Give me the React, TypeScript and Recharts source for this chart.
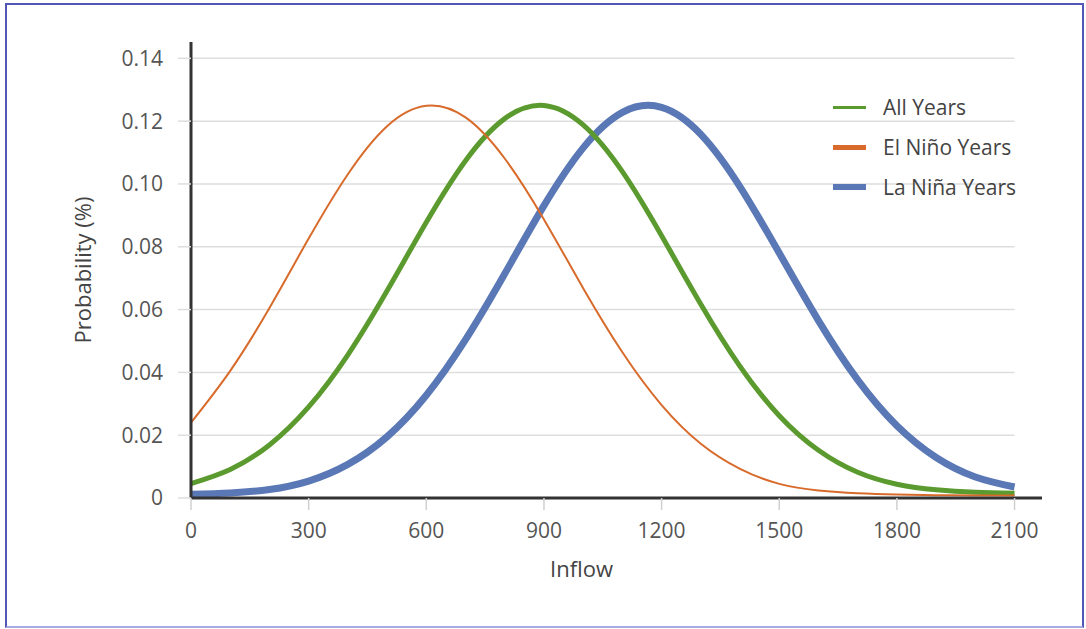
import { Line, LineChart, ReferenceLine, XAxis, YAxis } from "recharts";

const INFLOW = [0, 100, 200, 300, 400, 500, 600, 700, 800, 900, 1000, 1100, 1200, 1300, 1400, 1500, 1600, 1700, 1800, 1900, 2000, 2100];

const ALL_YEARS = [0.0046, 0.0091, 0.0169, 0.029, 0.0456, 0.066, 0.0878, 0.1074, 0.1208, 0.125, 0.1188, 0.1039, 0.0835, 0.0617, 0.0419, 0.0262, 0.0152, 0.0082, 0.0044, 0.0026, 0.0018, 0.0015];
const EL_NINO = [0.024, 0.0405, 0.0605, 0.0826, 0.1031, 0.1184, 0.1249, 0.1212, 0.1081, 0.0887, 0.0668, 0.0464, 0.0296, 0.0173, 0.0093, 0.0045, 0.0024, 0.0015, 0.0011, 0.0009, 0.0008, 0.0008];
const LA_NINA = [0.0012, 0.0016, 0.0027, 0.0054, 0.0107, 0.0195, 0.0327, 0.0504, 0.0714, 0.0931, 0.1115, 0.1228, 0.1244, 0.1158, 0.0991, 0.078, 0.0565, 0.0376, 0.023, 0.0129, 0.0067, 0.0035];

const X_TICKS = [0, 300, 600, 900, 1200, 1500, 1800, 2100];
const Y_TICKS = [0, 0.02, 0.04, 0.06, 0.08, 0.1, 0.12, 0.14];

const SERIES = [
  { key: "all", name: "All Years", color: "#5b9a2e", legendWidth: 3 },
  { key: "elNino", name: "El Niño Years", color: "#d86b2b", legendWidth: 5 },
  { key: "laNina", name: "La Niña Years", color: "#5a77b6", legendWidth: 6 },
];

const data = INFLOW.map((inflow, i) => ({
  inflow,
  all: ALL_YEARS[i],
  elNino: EL_NINO[i],
  laNina: LA_NINA[i],
}));

const FONT = "'Open Sans', sans-serif";
const tickStyle = { fontFamily: FONT, fontSize: 21, fill: "#555" };

export default function App() {
  return (
    <div style={{ position: "fixed", left: 0, top: 0, width: 1086, height: 629, background: "#fff" }}>
      <div
        style={{
          position: "absolute",
          left: 5,
          top: 3,
          width: 1079,
          height: 625,
          boxSizing: "border-box",
          border: "2px solid #5256b6",
          borderBottomColor: "#a9abe2",
        }}
      />
      <div style={{ position: "absolute", left: 0, top: 0 }}>
        <LineChart width={1086} height={629} data={data} margin={{ top: 42, right: 44, bottom: 0, left: 0 }}>
          {Y_TICKS.map((t) => (
            <ReferenceLine
              key={t}
              segment={[
                { x: 0, y: t },
                { x: 2100, y: t },
              ]}
              stroke="#dedede"
              strokeWidth={1.5}
            />
          ))}
          <XAxis
            dataKey="inflow"
            type="number"
            domain={[0, 2170]}
            ticks={X_TICKS}
            allowDataOverflow
            height={131}
            tickSize={12}
            tickMargin={13}
            tick={tickStyle}
            tickLine={{ stroke: "#d0d0d0", strokeWidth: 1.5 }}
            axisLine={{ stroke: "#333", strokeWidth: 3 }}
            label={{
              value: "Inflow",
              position: "insideBottom",
              offset: 52,
              dx: -35,
              style: { fontFamily: FONT, fontSize: 22, fill: "#444" },
            }}
          />
          <YAxis
            type="number"
            domain={[0, 0.1452]}
            ticks={Y_TICKS}
            allowDataOverflow
            width={191}
            tickSize={13}
            tickMargin={15}
            tick={tickStyle}
            tickFormatter={(v: number) => (v === 0 ? "0" : v.toFixed(2))}
            tickLine={{ stroke: "#dedede", strokeWidth: 1.5 }}
            axisLine={{ stroke: "#333", strokeWidth: 3 }}
            label={{
              value: "Probability (%)",
              angle: -90,
              position: "insideLeft",
              offset: 83,
              style: { fontFamily: FONT, fontSize: 22, fill: "#444", textAnchor: "middle" },
            }}
          />
          <Line
            dataKey="laNina"
            name="La Niña Years"
            type="natural"
            stroke="#5a77b6"
            strokeWidth={7}
            dot={false}
            isAnimationActive={false}
          />
          <Line
            dataKey="all"
            name="All Years"
            type="natural"
            stroke="#5b9a2e"
            strokeWidth={5}
            dot={false}
            isAnimationActive={false}
          />
          <Line
            dataKey="elNino"
            name="El Niño Years"
            type="natural"
            stroke="#d86b2b"
            strokeWidth={2}
            dot={false}
            isAnimationActive={false}
          />
        </LineChart>
      </div>
      <div style={{ position: "absolute", left: 833, top: 87, fontFamily: FONT, fontSize: 21, color: "#444" }}>
        {SERIES.map((s) => (
          <div key={s.key} style={{ display: "flex", alignItems: "center", height: 40 }}>
            <span
              style={{
                display: "inline-block",
                width: 33,
                height: s.legendWidth,
                background: s.color,
                marginRight: 17,
              }}
            />
            <span>{s.name}</span>
          </div>
        ))}
      </div>
    </div>
  );
}
